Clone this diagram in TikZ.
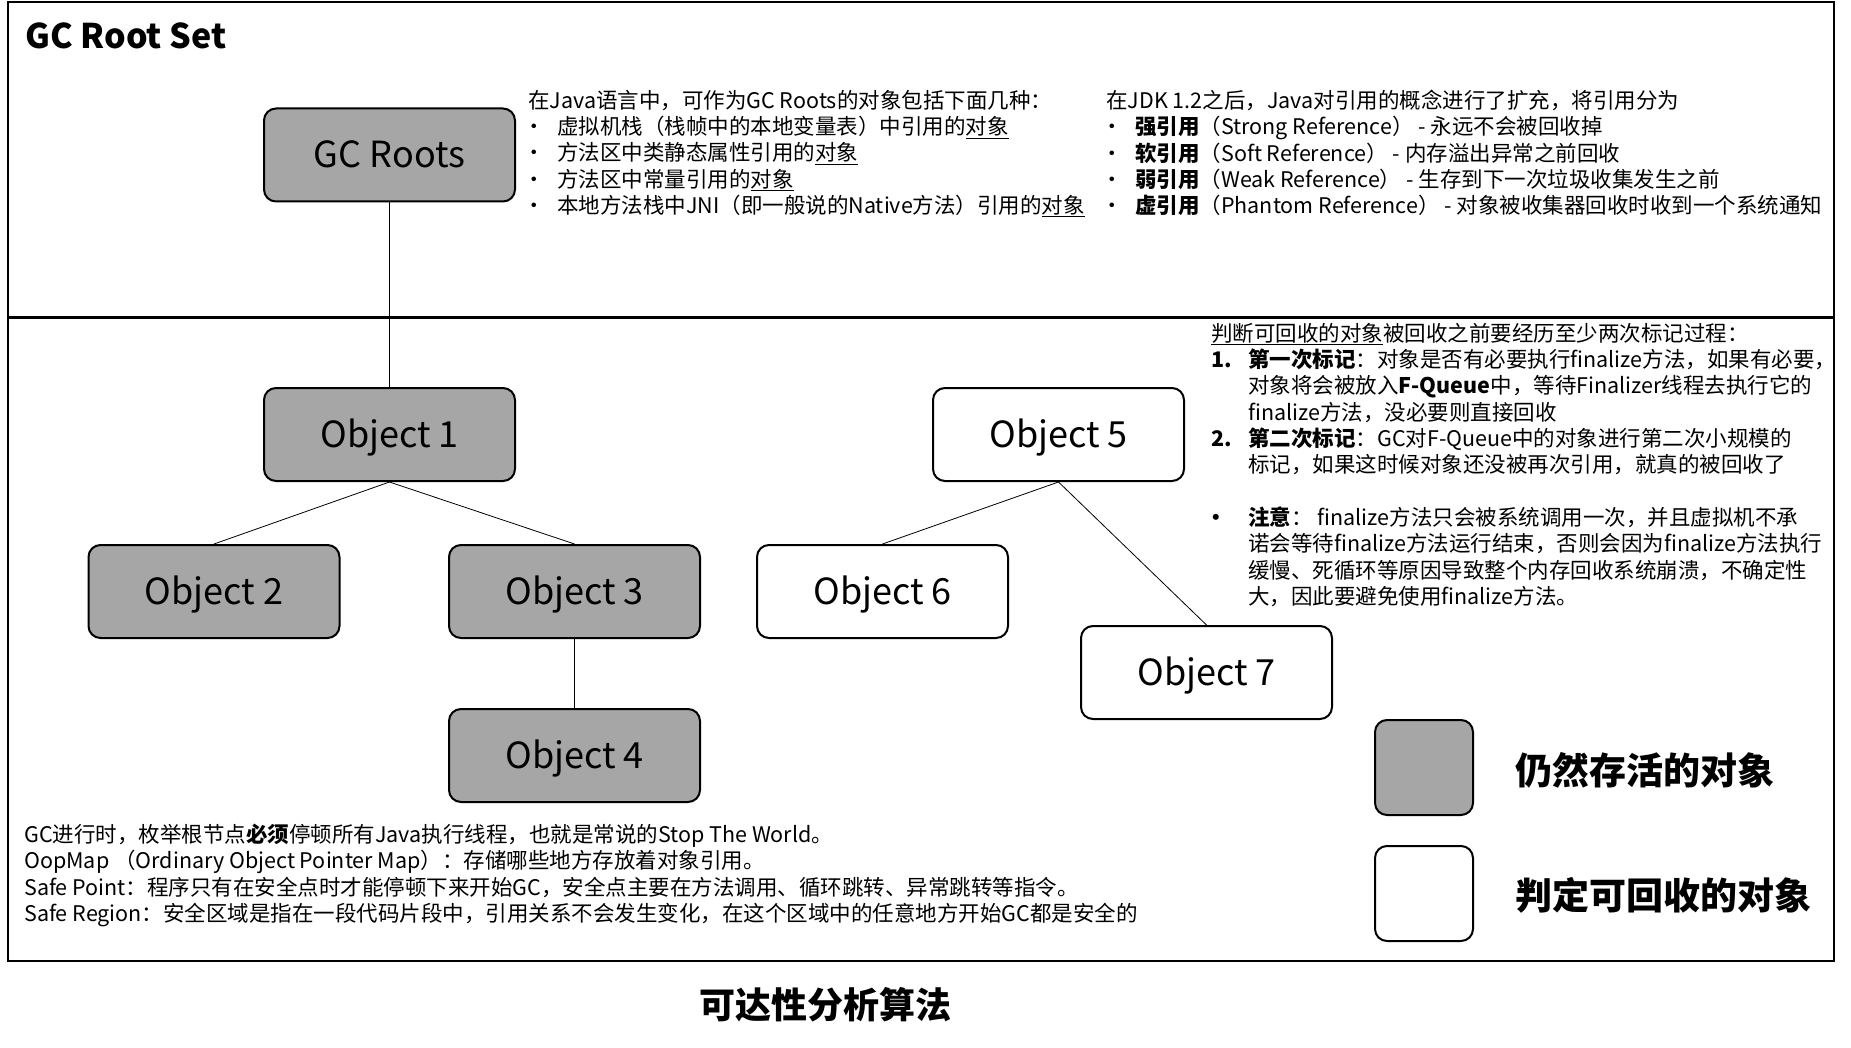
\documentclass[tikz,border=0pt]{standalone}
\usepackage{fontspec}
\setmainfont{Noto Sans CJK SC}
\usetikzlibrary{positioning}
\definecolor{gcgray}{HTML}{A6A6A6}
\newcommand{\dotitem}{\makebox[29pt][l]{\hspace{-5pt}•}}
\newcommand{\numitem}[1]{\makebox[37pt][l]{\textbf{#1}}}
\newcommand{\goon}{\hspace*{37pt}}

\begin{document}
\begin{tikzpicture}[x=1pt,y=-1pt,
    every node/.style={font=\fontsize{21.5}{26.3}\selectfont},
    objbox/.style={draw,line width=2pt,rounded corners=12pt,minimum width=251pt,minimum height=93pt,
      text height=26pt,text depth=0pt,font=\fontsize{36}{42}\selectfont},
    livebox/.style={objbox,fill=gcgray},
    deadbox/.style={objbox,fill=white},
    keybox/.style={draw,line width=2pt,rounded corners=12pt,minimum width=98pt,minimum height=95pt},
    keytext/.style={anchor=west,font=\bfseries\fontsize{37}{44}\selectfont},
    notes/.style={anchor=north west,align=left,inner sep=0pt},
    link/.style={line width=0.8pt}
]
\useasboundingbox (0,0) rectangle (1851,1048);
\draw[line width=2pt] (8,2) rectangle (1834,961);
\draw[line width=3pt] (8,318) -- (1834,318);
\node[anchor=west,font=\bfseries\fontsize{34}{40}\selectfont] (title) at (22,36) {GC Root Set};
% objects
\node[livebox] (gcroots) at (389.5,155) {GC Roots};
\node[livebox] (obj1) at (389.5,434.5) {Object 1};
\node[livebox] (obj2) at (214,591.5) {Object 2};
\node[livebox] (obj3) at (574.5,591.5) {Object 3};
\node[livebox] (obj4) at (574.5,755.5) {Object 4};
\node[deadbox] (obj5) at (1058.5,434.5) {Object 5};
\node[deadbox] (obj6) at (882.5,591.5) {Object 6};
\node[deadbox] (obj7) at (1206.5,672.5) {Object 7};
\draw[link] (gcroots.south) -- (obj1.north);
\draw[link] (obj1.south) -- (obj2.north);
\draw[link] (obj1.south) -- (obj3.north);
\draw[link] (obj3.south) -- (obj4.north);
\draw[link] (obj5.south) -- (obj6.north);
\draw[link] (obj5.south) -- (obj7.north);
% notes
\node[notes] (rootnote) at (528,90) {在Java语言中，可作为GC Roots的对象包括下面几种：\\
\dotitem 虚拟机栈（栈帧中的本地变量表）中引用的\underline{对象}\\
\dotitem 方法区中类静态属性引用的\underline{对象}\\
\dotitem 方法区中常量引用的\underline{对象}\\
\dotitem 本地方法栈中JNI（即一般说的Native方法）引用的\underline{对象}};
\node[notes] (refnote) at (1106,90) {在JDK 1.2之后，Java对引用的概念进行了扩充，将引用分为\\
\dotitem \textbf{强引用}（Strong Reference） - 永远不会被回收掉\\
\dotitem \textbf{软引用}（Soft Reference） - 内存溢出异常之前回收\\
\dotitem \textbf{弱引用}（Weak Reference） - 生存到下一次垃圾收集发生之前\\
\dotitem \textbf{虚引用}（Phantom Reference） - 对象被收集器回收时收到一个系统通知};
\node[notes] (marknote) at (1211,323) {\underline{判断可回收的对象}被回收之前要经历至少两次标记过程：\\
\numitem{1.}\textbf{第一次标记}：对象是否有必要执行finalize方法，如果有必要，\\
\goon 对象将会被放入\textbf{F-Queue}中，等待Finalizer线程去执行它的\\
\goon finalize方法，没必要则直接回收\\
\numitem{2.}\textbf{第二次标记}：GC对F-Queue中的对象进行第二次小规模的\\
\goon 标记，如果这时候对象还没被再次引用，就真的被回收了\\[26.5pt]
\numitem{\hspace{-6pt}•}\textbf{注意}： finalize方法只会被系统调用一次，并且虚拟机不承\\
\goon 诺会等待finalize方法运行结束，否则会因为finalize方法执行\\
\goon 缓慢、死循环等原因导致整个内存回收系统崩溃，不确定性\\
\goon 大，因此要避免使用finalize方法。};
\node[notes] (safenote) at (24,824) {GC进行时，枚举根节点\textbf{必须}停顿所有Java执行线程，也就是常说的Stop The World。\\
OopMap （Ordinary Object Pointer Map）：存储哪些地方存放着对象引用。\\
Safe Point：程序只有在安全点时才能停顿下来开始GC，安全点主要在方法调用、循环跳转、异常跳转等指令。\\
Safe Region：安全区域是指在一段代码片段中，引用关系不会发生变化，在这个区域中的任意地方开始GC都是安全的};
% legend
\node[keybox,fill=gcgray] (livekey) at (1424,767.5) {};
\node[keybox,fill=white] (deadkey) at (1424,893.5) {};
\node[keytext] (livetext) at (1512,770) {仍然存活的对象};
\node[keytext] (deadtext) at (1512,895) {判定可回收的对象};
\node[font=\bfseries\fontsize{36}{42}\selectfont] (caption) at (825.5,1005) {可达性分析算法};
\end{tikzpicture}
\end{document}
